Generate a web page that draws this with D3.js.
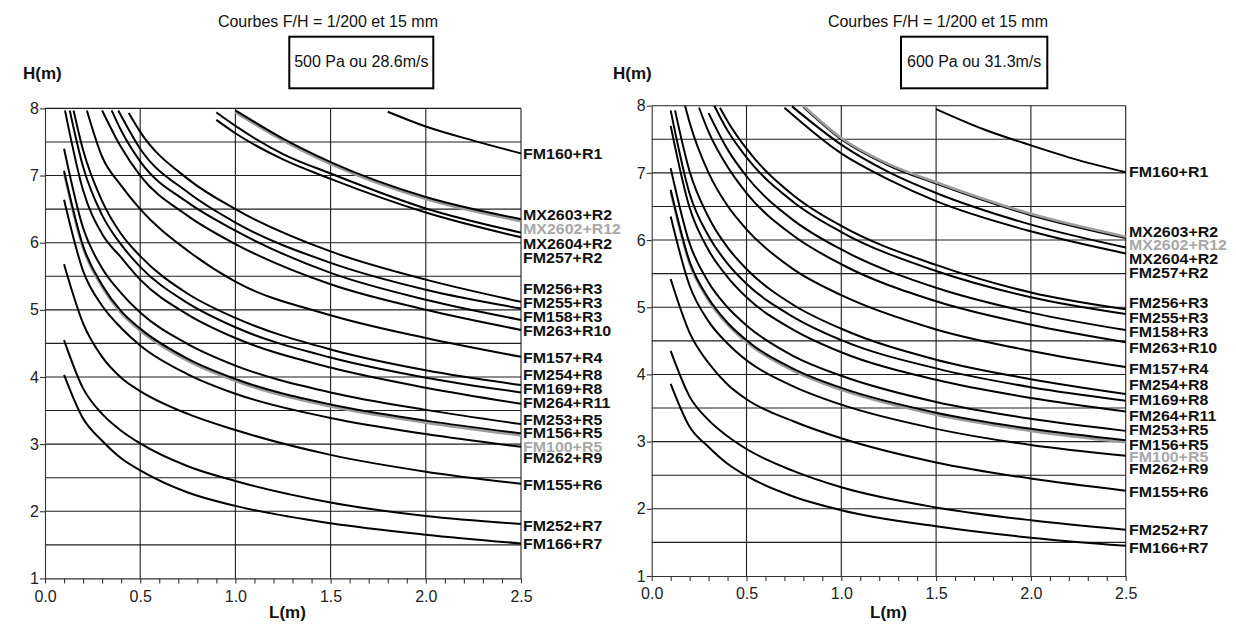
<!DOCTYPE html>
<html><head><meta charset="utf-8">
<script src="https://cdn.jsdelivr.net/npm/d3@7"></script>
<style>body{margin:0;background:#fff} svg{display:block}</style>
</head><body><svg id="c" width="1236" height="628"></svg>
<script>
// ---------- data ----------
const xTicks = [0, 0.5, 1, 1.5, 2, 2.5];
const xTickLabels = ["0.0", "0.5", "1.0", "1.5", "2.0", "2.5"];
const xMinorTicks = [0,0.1,0.2,0.3,0.4,0.5,0.6,0.7,0.8,0.9,1,1.1,1.2,1.3,1.4,1.5,1.6,1.7,1.8,1.9,2,2.1,2.2,2.3,2.4,2.5];
const yTicks = [1, 2, 3, 4, 5, 6, 7, 8];
const yTickLabels = ["1", "2", "3", "4", "5", "6", "7", "8"];
const xGrid = [0.5, 1, 1.5, 2, 2.5];
const yGrid = [1.5, 2, 2.5, 3, 3.5, 4, 4.5, 5, 5.5, 6, 6.5, 7, 7.5, 8];

const seriesNames = ["FM160+R1","MX2603+R2","MX2602+R12","MX2604+R2","FM257+R2","FM256+R3","FM255+R3","FM158+R3","FM263+R10","FM157+R4","FM254+R8","FM169+R8","FM264+R11","FM253+R5","FM156+R5","FM100+R5","FM262+R9","FM155+R6","FM252+R7","FM166+R7"];
const graySeries = ["MX2602+R12", "FM100+R5"];

const titleText = "Courbes F/H = 1/200 et 15 mm";
const leftCaption = "500 Pa ou 28.6m/s";
const rightCaption = "600 Pa ou 31.3m/s";

// left panel: 500 Pa  ([L, H] pairs)
const leftValues = [
  [[1.8,7.95],[2.0,7.73],[2.25,7.52],[2.5,7.33]],
  [[1.0,7.97],[1.25,7.55],[1.5,7.2],[2.0,6.68],[2.5,6.35]],
  [[1.0,7.94],[1.25,7.52],[1.5,7.17],[2.0,6.65],[2.5,6.32]],
  [[0.9,7.94],[1.0,7.74],[1.25,7.32],[1.5,7.03],[2.0,6.51],[2.5,6.15]],
  [[0.9,7.83],[1.0,7.63],[1.25,7.24],[1.5,6.95],[2.0,6.45],[2.5,6.08]],
  [[0.44,7.93],[0.5,7.65],[0.75,6.95],[1.0,6.5],[1.5,5.87],[2.0,5.45],[2.5,5.12]],
  [[0.385,7.97],[0.5,7.40],[0.75,6.75],[1.0,6.30],[1.5,5.70],[2.0,5.30],[2.5,5.02]],
  [[0.35,7.97],[0.4,7.67],[0.5,7.21],[0.75,6.60],[1.0,6.18],[1.5,5.55],[2.0,5.15],[2.5,4.85]],
  [[0.30,7.97],[0.4,7.42],[0.5,7.0],[0.75,6.40],[1.0,5.98],[1.5,5.38],[2.0,5.0],[2.5,4.70]],
  [[0.22,7.97],[0.3,7.28],[0.4,6.85],[0.5,6.5],[0.75,5.88],[1.0,5.42],[1.5,4.92],[2.0,4.58],[2.5,4.30]],
  [[0.15,7.97],[0.2,7.38],[0.3,6.62],[0.4,6.13],[0.5,5.80],[0.75,5.24],[1.0,4.88],[1.5,4.41],[2.0,4.10],[2.5,3.88]],
  [[0.13,7.97],[0.2,7.13],[0.3,6.41],[0.4,5.97],[0.5,5.64],[0.75,5.10],[1.0,4.74],[1.5,4.29],[2.0,3.99],[2.5,3.77]],
  [[0.105,7.97],[0.2,6.78],[0.3,6.13],[0.4,5.78],[0.5,5.45],[0.75,4.93],[1.0,4.58],[1.5,4.14],[2.0,3.84],[2.5,3.60]],
  [[0.1,7.40],[0.2,6.22],[0.3,5.62],[0.4,5.25],[0.5,4.96],[0.75,4.49],[1.0,4.17],[1.5,3.77],[2.0,3.51],[2.5,3.30]],
  [[0.1,7.07],[0.2,5.95],[0.3,5.37],[0.4,4.98],[0.5,4.72],[0.75,4.27],[1.0,3.97],[1.5,3.59],[2.0,3.35],[2.5,3.16]],
  [[0.1,7.04],[0.2,5.92],[0.3,5.34],[0.4,4.95],[0.5,4.69],[0.75,4.24],[1.0,3.94],[1.5,3.56],[2.0,3.32],[2.5,3.13]],
  [[0.1,6.64],[0.2,5.58],[0.3,5.06],[0.4,4.73],[0.5,4.47],[0.75,4.04],[1.0,3.75],[1.5,3.39],[2.0,3.15],[2.5,2.96]],
  [[0.1,5.68],[0.2,4.8],[0.3,4.3],[0.4,3.99],[0.5,3.79],[0.75,3.45],[1.0,3.21],[1.5,2.84],[2.0,2.59],[2.5,2.41]],
  [[0.1,4.55],[0.2,3.83],[0.3,3.45],[0.4,3.2],[0.5,3.01],[0.75,2.67],[1.0,2.45],[1.5,2.13],[2.0,1.93],[2.5,1.81]],
  [[0.1,4.03],[0.2,3.38],[0.3,3.05],[0.4,2.79],[0.5,2.61],[0.75,2.28],[1.0,2.08],[1.5,1.82],[2.0,1.65],[2.5,1.52]]
];
const leftLabelY = [7.33,6.41,6.20,5.99,5.77,5.32,5.11,4.90,4.69,4.29,4.04,3.82,3.61,3.37,3.17,2.96,2.79,2.39,1.78,1.52];

// right panel: 600 Pa
const rightValues = [
  [[1.5,7.95],[1.75,7.65],[2.0,7.41],[2.25,7.19],[2.5,7.01]],
  [[0.8,7.98],[1.0,7.50],[1.25,7.11],[1.5,6.84],[2.0,6.37],[2.5,6.03]],
  [[0.8,8.0],[1.0,7.52],[1.25,7.13],[1.5,6.86],[2.0,6.39],[2.5,6.05]],
  [[0.74,7.99],[1.0,7.42],[1.25,7.01],[1.5,6.70],[2.0,6.23],[2.5,5.89]],
  [[0.70,7.97],[1.0,7.29],[1.25,6.90],[1.5,6.58],[2.0,6.13],[2.5,5.80]],
  [[0.36,7.97],[0.4,7.77],[0.5,7.36],[0.75,6.66],[1.0,6.21],[1.5,5.63],[2.0,5.22],[2.5,4.97]],
  [[0.33,8.0],[0.4,7.63],[0.5,7.23],[0.75,6.56],[1.0,6.12],[1.5,5.54],[2.0,5.15],[2.5,4.90]],
  [[0.30,7.89],[0.4,7.35],[0.5,6.95],[0.75,6.29],[1.0,5.86],[1.5,5.29],[2.0,4.92],[2.5,4.66]],
  [[0.25,7.97],[0.3,7.61],[0.4,7.09],[0.5,6.70],[0.75,6.06],[1.0,5.64],[1.5,5.09],[2.0,4.74],[2.5,4.48]],
  [[0.176,8.0],[0.2,7.75],[0.3,7.0],[0.4,6.51],[0.5,6.16],[0.75,5.56],[1.0,5.18],[1.5,4.67],[2.0,4.35],[2.5,4.11]],
  [[0.123,7.93],[0.2,7.02],[0.3,6.34],[0.4,5.89],[0.5,5.57],[0.75,5.03],[1.0,4.68],[1.5,4.22],[2.0,3.93],[2.5,3.71]],
  [[0.1,7.93],[0.2,6.69],[0.3,6.06],[0.4,5.65],[0.5,5.35],[0.75,4.85],[1.0,4.51],[1.5,4.09],[2.0,3.81],[2.5,3.61]],
  [[0.1,7.70],[0.2,6.48],[0.3,5.85],[0.4,5.45],[0.5,5.15],[0.75,4.66],[1.0,4.33],[1.5,3.92],[2.0,3.65],[2.5,3.45]],
  [[0.1,7.07],[0.2,5.95],[0.3,5.37],[0.4,5.0],[0.5,4.73],[0.75,4.27],[1.0,3.98],[1.5,3.59],[2.0,3.34],[2.5,3.16]],
  [[0.1,6.75],[0.2,5.68],[0.3,5.13],[0.4,4.77],[0.5,4.51],[0.75,4.08],[1.0,3.80],[1.5,3.43],[2.0,3.19],[2.5,3.02]],
  [[0.1,6.72],[0.2,5.65],[0.3,5.10],[0.4,4.74],[0.5,4.48],[0.75,4.05],[1.0,3.77],[1.5,3.40],[2.0,3.16],[2.5,2.99]],
  [[0.1,6.35],[0.2,5.32],[0.3,4.79],[0.4,4.46],[0.5,4.21],[0.75,3.82],[1.0,3.55],[1.5,3.19],[2.0,2.95],[2.5,2.79]],
  [[0.1,5.42],[0.2,4.62],[0.3,4.17],[0.4,3.85],[0.5,3.63],[0.75,3.30],[1.0,3.05],[1.5,2.69],[2.0,2.45],[2.5,2.27]],
  [[0.1,4.35],[0.2,3.67],[0.3,3.32],[0.4,3.08],[0.5,2.89],[0.75,2.56],[1.0,2.32],[1.5,2.02],[2.0,1.83],[2.5,1.69]],
  [[0.1,3.86],[0.2,3.22],[0.3,2.92],[0.4,2.67],[0.5,2.49],[0.75,2.18],[1.0,1.98],[1.5,1.74],[2.0,1.57],[2.5,1.45]]
];
const rightLabelY = [7.01,6.12,5.93,5.72,5.51,5.07,4.84,4.64,4.40,4.08,3.84,3.62,3.39,3.17,2.96,2.78,2.59,2.25,1.69,1.42];
const rightGrayOnTop = ["MX2602+R12"];

// ---------- drawing ----------
const svg = d3.select("#c");
svg.append("rect").attr("width", 1236).attr("height", 628).attr("fill", "#fff");
const FONT = "'Liberation Sans', Arial, Helvetica, sans-serif";

function drawPanel(p, values, labelY, grayTop, caption, id) {
  const x = d3.scaleLinear().domain([0, 2.5]).range([p.x0, p.x1]);
  const y = d3.scaleLinear().domain([1, 8]).range([p.yb, p.yt]);
  const g = svg.append("g");

  // grid
  g.selectAll(".hg").data(yGrid).join("line")
    .attr("x1", p.x0).attr("x2", p.x1).attr("y1", d => y(d)).attr("y2", d => y(d))
    .attr("stroke", "#1e1e1e").attr("stroke-width", 1.1);
  g.selectAll(".vg").data(xGrid).join("line")
    .attr("y1", p.yb).attr("y2", p.yt).attr("x1", d => x(d)).attr("x2", d => x(d))
    .attr("stroke", "#1e1e1e").attr("stroke-width", 1.1);

  // axes
  const xMinorAxis = d3.axisBottom(x).tickValues(xMinorTicks).tickSize(5).tickSizeOuter(0).tickFormat("");
  const gxm = g.append("g").attr("transform", `translate(0,${p.yb})`).call(xMinorAxis);
  gxm.selectAll("line,path").attr("stroke", "#333").attr("stroke-width", 1.1);
  const xAxis = d3.axisBottom(x).tickValues(xTicks).tickSize(0).tickPadding(12)
    .tickFormat((d, i) => xTickLabels[i]);
  const gx = g.append("g").attr("transform", `translate(0,${p.yb})`).call(xAxis);
  gx.select(".domain").remove();
  gx.selectAll("text").attr("font-family", FONT).attr("font-size", 16).attr("fill", "#222");

  const yAxis = d3.axisLeft(y).tickValues(yTicks).tickSize(5).tickSizeOuter(0).tickPadding(1)
    .tickFormat((d, i) => yTickLabels[i]);
  const gy = g.append("g").attr("transform", `translate(${p.x0},0)`).call(yAxis);
  gy.selectAll("line,path").attr("stroke", "#333").attr("stroke-width", 1.1);
  gy.selectAll("text").attr("font-family", FONT).attr("font-size", 16).attr("fill", "#222");

  // clip
  svg.append("clipPath").attr("id", id).append("rect")
    .attr("x", p.x0).attr("y", p.yt - 2).attr("width", p.x1 - p.x0 + 1).attr("height", p.yb - p.yt + 2);

  const line = d3.line().x(d => x(d[0])).y(d => y(d[1])).curve(d3.curveMonotoneX);
  const idx = seriesNames.map((n, i) => i);
  const isGray = i => graySeries.includes(seriesNames[i]);
  const onTop = i => grayTop.includes(seriesNames[i]);
  const order = [
    ...idx.filter(i => isGray(i) && !onTop(i)),
    ...idx.filter(i => !isGray(i)),
    ...idx.filter(i => onTop(i))
  ];
  const cg = g.append("g").attr("clip-path", `url(#${id})`);
  order.forEach(i => {
    cg.append("path").attr("d", line(values[i]))
      .attr("fill", "none")
      .attr("stroke", isGray(i) ? "#9c9c9c" : "#000")
      .attr("stroke-width", isGray(i) ? 2.6 : 2)
      .attr("stroke-linejoin", "round");
  });

  // series labels
  g.selectAll(".lab").data(seriesNames).join("text")
    .attr("transform", (d, i) => `translate(${p.lx},${y(labelY[i])}) scale(1.1,1)`)
    .attr("dy", "0.36em")
    .attr("font-family", FONT).attr("font-size", 14.5).attr("font-weight", "bold")
    .attr("fill", d => graySeries.includes(d) ? "#a8a8a8" : "#111")
    .text(d => d);

  // titles
  g.append("text").attr("x", p.titleX).attr("y", 27).attr("text-anchor", "end")
    .attr("font-family", FONT).attr("font-size", 16).attr("fill", "#111").text(titleText);
  g.append("rect").attr("x", p.boxX).attr("y", 36.7).attr("width", p.boxW).attr("height", 51.6)
    .attr("fill", "none").attr("stroke", "#000").attr("stroke-width", 2);
  g.append("text").attr("x", p.boxX + p.boxW / 2).attr("y", 67).attr("text-anchor", "middle")
    .attr("font-family", FONT).attr("font-size", 16).attr("fill", "#111").text(caption);
  g.append("text").attr("x", p.hX).attr("y", 79).attr("font-family", FONT)
    .attr("font-size", 17).attr("font-weight", "bold").attr("fill", "#111").text("H(m)");
  g.append("text").attr("x", p.lX).attr("y", 618).attr("font-family", FONT)
    .attr("font-size", 17).attr("font-weight", "bold").attr("fill", "#111").text("L(m)");
}

drawPanel({x0: 45, x1: 521, yt: 108.4, yb: 578.4, lx: 523, titleX: 438, boxX: 289.3, boxW: 144, hX: 23, lX: 269},
  leftValues, leftLabelY, [], leftCaption, "clipL");
drawPanel({x0: 651.7, x1: 1125.7, yt: 105.7, yb: 576, lx: 1129, titleX: 1048, boxX: 901, boxW: 146.3, hX: 613, lX: 870},
  rightValues, rightLabelY, rightGrayOnTop, rightCaption, "clipR");
</script>
</body></html>
